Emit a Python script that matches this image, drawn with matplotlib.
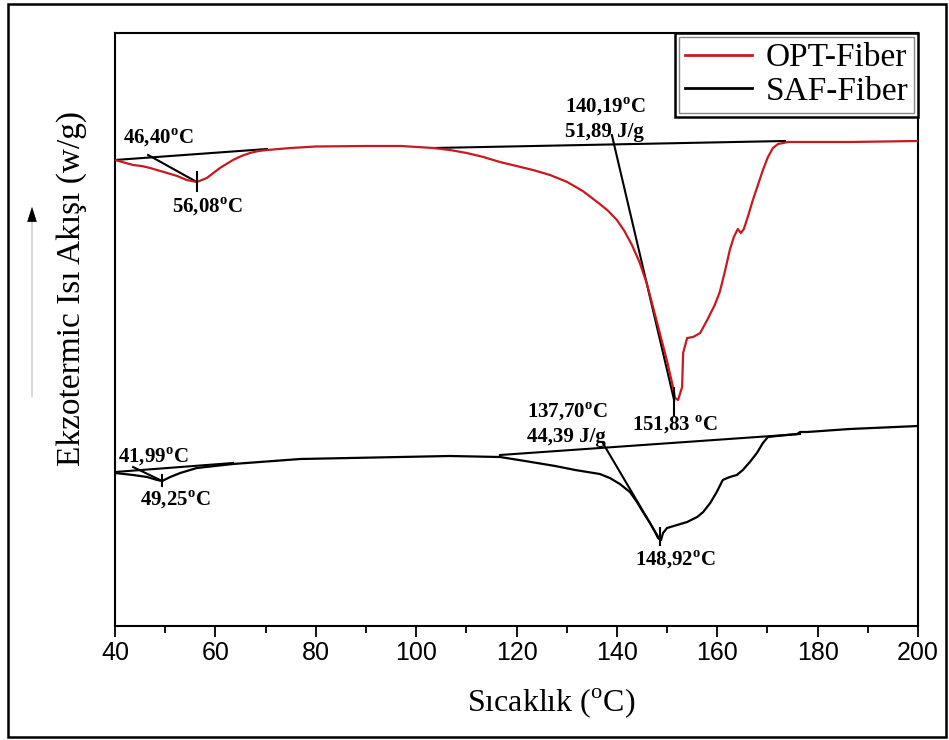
import matplotlib
matplotlib.use('Agg')
import matplotlib.pyplot as plt
from matplotlib.patches import Rectangle, FancyArrow
from matplotlib.ticker import MultipleLocator

plt.rcParams['font.family'] = ['Liberation Serif', 'DejaVu Serif']
plt.rcParams['mathtext.fontset'] = 'custom'
plt.rcParams['mathtext.rm'] = 'Liberation Serif'
plt.rcParams['mathtext.bf'] = 'Liberation Serif:bold'

# DSC egrileri (isi akisi, keyfi birim)
opt_T = [40.0, 43.6, 45.3, 47.0, 50.4, 52.4, 54.3, 55.3, 56.3, 57.3, 58.3, 59.6,
         60.9, 62.2, 63.5, 65.2, 66.9, 68.6, 70.3, 75.0, 80.0, 90.0, 97.0,
         103.4, 106.7, 110.1, 113.4, 116.7, 120.0, 123.3, 126.7, 130.1, 133.2,
         136.6, 138.3, 140.0, 141.5, 143.0, 144.5, 146.0, 147.3, 148.6, 150.0,
         151.0, 151.6, 152.2, 153.0, 153.2, 154.0, 155.2, 156.6, 158.0, 159.5,
         160.5, 161.5, 162.5, 163.3, 164.1, 164.7, 165.3, 166.2, 167.1, 168.1,
         169.1, 170.1, 171.1, 172.1, 174.1, 186.4, 200.0]
opt_q = [4.66, 4.61, 4.60, 4.58, 4.53, 4.50, 4.46, 4.45, 4.44, 4.46, 4.48, 4.53,
         4.58, 4.62, 4.66, 4.70, 4.73, 4.75, 4.76, 4.78, 4.795, 4.80, 4.80,
         4.78, 4.76, 4.73, 4.69, 4.64, 4.60, 4.56, 4.51, 4.44, 4.35,
         4.22, 4.15, 4.06, 3.95, 3.81, 3.64, 3.42, 3.17, 2.92, 2.65,
         2.43, 2.28, 2.26, 2.39, 2.73, 2.88, 2.89, 2.93, 3.06, 3.21,
         3.34, 3.54, 3.76, 3.89, 3.97, 3.93, 3.97, 4.11, 4.26, 4.41,
         4.56, 4.69, 4.78, 4.82, 4.84, 4.84, 4.85]

saf_T = [40.0, 43.6, 46.4, 48.4, 49.4, 51.0, 53.0, 56.3, 63.5, 76.9, 96.8, 106.7,
         116.7, 121.7, 127.7, 131.7, 136.6, 138.6, 140.6, 142.6, 144.0, 145.2,
         146.6, 147.6, 148.2, 148.8, 149.2, 150.0, 152.0, 154.0, 156.0, 157.2,
         158.6, 159.9, 161.1, 162.5, 163.9, 165.1, 166.5, 167.9, 169.1, 170.1,
         171.9, 175.9, 176.5, 177.9, 186.4, 200.0]
saf_q = [1.53, 1.51, 1.49, 1.46, 1.45, 1.49, 1.53, 1.58, 1.62, 1.67, 1.69, 1.70,
         1.69, 1.65, 1.60, 1.56, 1.52, 1.48, 1.42, 1.34, 1.24, 1.14,
         1.03, 0.94, 0.88, 0.86, 0.93, 0.98, 1.01, 1.04, 1.09, 1.14,
         1.23, 1.34, 1.46, 1.49, 1.51, 1.56, 1.64, 1.73, 1.83, 1.89,
         1.90, 1.92, 1.94, 1.94, 1.97, 2.00]

# analiz cizgileri: (T1, T2), (q1, q2)
baseline_lines = [
    ((40.0, 70.3), (4.66, 4.77)),
    ((103.4, 173.5), (4.78, 4.85)),
    ((40.0, 63.5), (1.54, 1.63)),
    ((116.7, 176.5), (1.71, 1.92)),
]
tangent_lines = [
    ((46.6, 56.3), (4.71, 4.44)),
    ((139.0, 151.4), (4.91, 2.26)),
    ((43.6, 49.4), (1.59, 1.45)),
    ((137.2, 148.6), (1.83, 0.86)),
]
peak_marks = [
    (56.3, 4.35, 4.54),
    (151.4, 2.11, 2.38),
    (49.4, 1.40, 1.51),
    (148.6, 0.81, 0.98),
]

# etiketler: (T, q, metin, hizalama)
labels = [
    (48.6, 4.88, '46,40$^{\\mathbf{o}}$C', 'center'),
    (58.3, 4.19, '56,08$^{\\mathbf{o}}$C', 'center'),
    (129.6, 5.19, '140,19$^{\\mathbf{o}}$C', 'left'),
    (129.6, 4.94, '51,89 J/g', 'left'),
    (151.6, 2.01, '151,83 $^{\\mathbf{o}}$C', 'center'),
    (47.6, 1.69, '41,99$^{\\mathbf{o}}$C', 'center'),
    (52.0, 1.26, '49,25$^{\\mathbf{o}}$C', 'center'),
    (122.0, 2.14, '137,70$^{\\mathbf{o}}$C', 'left'),
    (122.0, 1.89, '44,39 J/g', 'left'),
    (151.6, 0.66, '148,92$^{\\mathbf{o}}$C', 'center'),
]

fig = plt.figure(figsize=(9.49, 7.40), dpi=100)
ax = fig.add_axes([115 / 949, 1 - 626 / 740, 803 / 949, 593 / 740])

ax.plot(opt_T, opt_q, color='#c8191e', lw=1.6, label='OPT-Fiber', zorder=3)
ax.plot(saf_T, saf_q, color='black', lw=1.6, label='SAF-Fiber', zorder=3)

for xs, ys in baseline_lines + tangent_lines:
    ax.plot(xs, ys, color='black', lw=1.5, zorder=2)
for t, q1, q2 in peak_marks:
    ax.plot([t, t], [q1, q2], color='black', lw=1.5, zorder=4)

for t, q, s, ha in labels:
    ax.text(t, q, s, ha=ha, va='center', fontsize=15, fontweight='bold')

ax.set_xlim(40, 200)
ax.set_ylim(0, 5.93)
ax.set_yticks([])
ax.xaxis.set_major_locator(MultipleLocator(20))
ax.xaxis.set_minor_locator(MultipleLocator(10))
ax.tick_params(axis='x', which='major', direction='out', length=8, width=1.3,
               labelsize=18, pad=3)
ax.tick_params(axis='x', which='minor', direction='out', length=5, width=1.3)
for lab in ax.get_xticklabels():
    lab.set_family(['Liberation Sans', 'DejaVu Sans'])
for sp in ax.spines.values():
    sp.set_linewidth(1.5)

ax.set_xlabel('Sıcaklık ($^{\\rm o}$C)', fontsize=23)
ax.xaxis.set_label_coords((551 - 115) / 803, -(703 - 626) / 593)
ax.xaxis.label.set_va('center')

fig.text(72 / 949, 1 - 288 / 740, 'Ekzotermic Isı Akışı (w/g)', rotation=90,
         ha='center', va='center', fontsize=24)
fig.patches.append(FancyArrow(
    32 / 949, 1 - 397 / 740, 0, (397 - 207) / 740, width=0.0006,
    head_width=0.010, head_length=0.02, length_includes_head=True,
    transform=fig.transFigure, color='#777777', ec='none'))
fig.patches.append(FancyArrow(
    32 / 949, 1 - 222 / 740, 0, 15 / 740, width=0.0006,
    head_width=0.010, head_length=0.02, length_includes_head=True,
    transform=fig.transFigure, color='black', ec='none'))

leg = ax.legend(loc='upper right', borderaxespad=0, fontsize=24, fancybox=False,
                handlelength=2.0, handletextpad=0.4, labelspacing=0.08,
                borderpad=0.3, framealpha=1)
leg.get_frame().set_edgecolor('black')
leg.get_frame().set_linewidth(1.8)
for h in leg.get_lines():
    h.set_linewidth(2.0)

# legend ic cercevesi (gri)
fig.canvas.draw()
bb = leg.get_window_extent()
W, H = fig.bbox.width, fig.bbox.height
fig.patches.append(Rectangle(((bb.x0 + 4) / W, (bb.y0 + 4) / H),
                             (bb.width - 8) / W, (bb.height - 8) / H,
                             transform=fig.transFigure, fill=False,
                             lw=1.0, ec='#888888', zorder=10))

fig.patches.append(Rectangle((8 / 949, 3 / 740), 938 / 949, 733 / 740,
                             transform=fig.transFigure, fill=False,
                             lw=1.8, ec='black'))

fig.savefig('out.png', dpi=100)
